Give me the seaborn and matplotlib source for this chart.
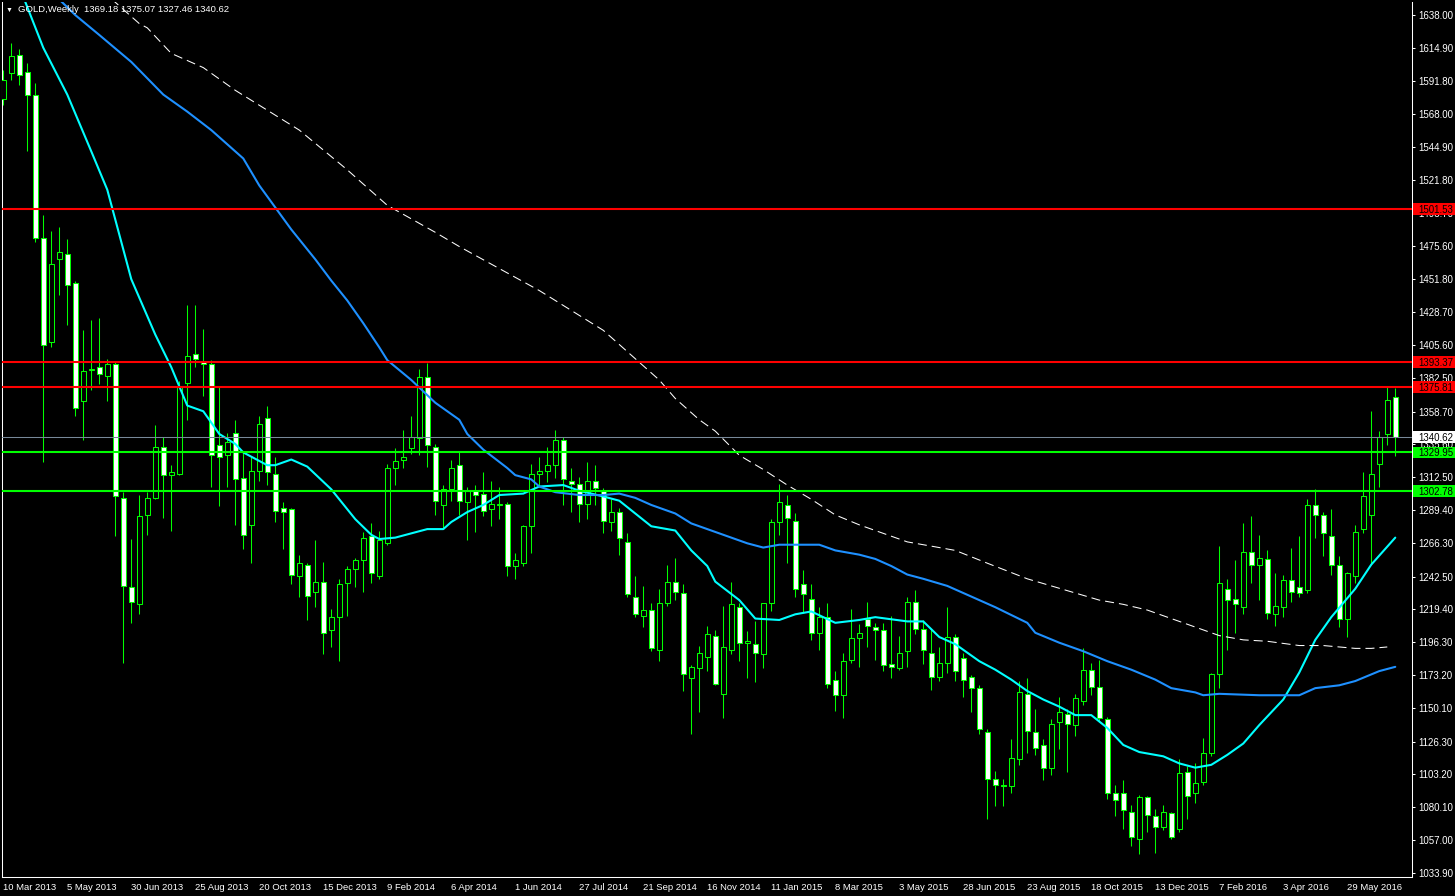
import numpy as np
import pandas as pd
import matplotlib
matplotlib.use("Agg")
import matplotlib.pyplot as plt
from matplotlib.patches import Rectangle
import seaborn as sns

# weekly candles, 10 Mar 2013 -> Jul 2016
opens = [1579, 1597, 1610, 1598, 1582, 1481, 1408, 1466, 1470, 1449,
         1366, 1388, 1390, 1384, 1392, 1298, 1235, 1223, 1286, 1298,
         1334, 1314, 1315, 1379, 1399, 1394, 1392, 1335, 1328, 1344,
         1312, 1279, 1317, 1354, 1315, 1291, 1290, 1243, 1251, 1232,
         1239, 1205, 1214, 1238, 1248, 1254, 1271, 1243, 1266, 1319,
         1325, 1333, 1340, 1383, 1334, 1293, 1304, 1321, 1295, 1303,
         1301, 1290, 1293, 1294, 1250, 1252, 1278, 1315, 1317, 1321,
         1339, 1310, 1308, 1294, 1310, 1303, 1281, 1288, 1267, 1228,
         1215, 1219, 1191, 1224, 1239, 1231, 1171, 1178, 1186, 1201,
         1160, 1191, 1221, 1196, 1195, 1188, 1224, 1281, 1293, 1282,
         1237, 1227, 1203, 1214, 1170, 1159, 1184, 1199, 1213, 1207,
         1205, 1181, 1178, 1190, 1225, 1206, 1189, 1172, 1182, 1200,
         1185, 1172, 1164, 1133, 1100, 1096, 1095, 1114, 1160, 1133,
         1124, 1108, 1140, 1146, 1138, 1155, 1177, 1165, 1142, 1090,
         1090, 1077, 1058, 1087, 1074, 1066, 1076, 1065, 1105, 1090,
         1098, 1118, 1174, 1234, 1227, 1221, 1260, 1251, 1255, 1216,
         1221, 1240, 1235, 1233, 1293, 1286, 1271, 1251, 1213, 1243,
         1276, 1286, 1322, 1343, 1369.18]
highs = [1599, 1618, 1614, 1604, 1590, 1497, 1486, 1489, 1480, 1451,
         1416, 1423, 1425, 1396, 1394, 1302, 1269, 1300, 1302, 1349,
         1341, 1321, 1380, 1434, 1434, 1417, 1395, 1376, 1344, 1353,
         1330, 1327, 1356, 1363, 1327, 1295, 1291, 1258, 1252, 1268,
         1253, 1220, 1241, 1250, 1256, 1274, 1280, 1275, 1322, 1333,
         1346, 1356, 1389, 1393, 1336, 1307, 1325, 1331, 1306, 1307,
         1316, 1310, 1306, 1295, 1259, 1279, 1322, 1327, 1334, 1346,
         1341, 1319, 1313, 1323, 1321, 1305, 1297, 1291, 1273, 1243,
         1236, 1224, 1234, 1251, 1256, 1237, 1180, 1194, 1208, 1205,
         1222, 1239, 1224, 1204, 1211, 1224, 1283, 1308, 1300, 1287,
         1247, 1237, 1221, 1224, 1176, 1189, 1220, 1209, 1225, 1210,
         1210, 1215, 1201, 1228, 1233, 1212, 1206, 1193, 1221, 1202,
         1189, 1173, 1166, 1135, 1106, 1100, 1128, 1169, 1171, 1149,
         1128, 1142, 1158, 1149, 1160, 1192, 1182, 1184, 1144, 1096,
         1099, 1082, 1089, 1088, 1079, 1082, 1077, 1114, 1109, 1111,
         1129, 1175, 1264, 1241, 1254, 1280, 1285, 1272, 1261, 1245,
         1244, 1263, 1271, 1297, 1304, 1288, 1290, 1257, 1246, 1279,
         1316, 1359, 1345, 1376, 1375.07]
lows = [1575, 1592, 1589, 1542, 1478, 1323, 1404, 1441, 1420, 1356,
        1339, 1374, 1378, 1366, 1271, 1182, 1210, 1216, 1272, 1297,
        1284, 1275, 1314, 1353, 1390, 1370, 1306, 1292, 1306, 1279,
        1262, 1252, 1310, 1307, 1281, 1262, 1237, 1228, 1212, 1221,
        1188, 1193, 1183, 1215, 1235, 1232, 1238, 1241, 1265, 1307,
        1319, 1329, 1328, 1320, 1286, 1277, 1296, 1286, 1268, 1274,
        1285, 1278, 1283, 1243, 1241, 1250, 1259, 1306, 1309, 1312,
        1293, 1288, 1281, 1283, 1293, 1273, 1275, 1258, 1228, 1214,
        1207, 1190, 1183, 1222, 1226, 1162, 1132, 1147, 1176, 1166,
        1143, 1188, 1183, 1171, 1168, 1178, 1218, 1272, 1252, 1228,
        1217, 1198, 1191, 1164, 1148, 1143, 1182, 1179, 1193, 1184,
        1176, 1171, 1177, 1179, 1202, 1181, 1163, 1169, 1175, 1169,
        1158, 1147, 1132, 1072, 1081, 1081, 1090, 1110, 1118, 1117,
        1099, 1103, 1121, 1105, 1130, 1152, 1159, 1140, 1086, 1074,
        1065, 1053, 1047, 1063, 1048, 1064, 1058, 1063, 1072, 1083,
        1096, 1116, 1164, 1191, 1203, 1216, 1238, 1226, 1213, 1208,
        1214, 1225, 1228, 1231, 1270, 1257, 1244, 1207, 1200, 1238,
        1273, 1252, 1306, 1335, 1327.46]
closes = [1592, 1609, 1596, 1582, 1481, 1406, 1463, 1471, 1448, 1361,
          1387, 1389, 1385, 1392, 1299, 1236, 1225, 1285, 1298, 1334,
          1314, 1316, 1377, 1398, 1396, 1392, 1328, 1327, 1337, 1311,
          1272, 1317, 1350, 1316, 1289, 1288, 1244, 1252, 1229, 1239,
          1203, 1214, 1237, 1248, 1254, 1270, 1245, 1268, 1319, 1324,
          1327, 1341, 1383, 1335, 1296, 1304, 1319, 1296, 1303, 1300,
          1289, 1294, 1294, 1250, 1254, 1278, 1315, 1317, 1321, 1339,
          1311, 1308, 1294, 1310, 1305, 1282, 1288, 1270, 1230, 1216,
          1219, 1192, 1224, 1239, 1232, 1174, 1179, 1189, 1202, 1167,
          1193, 1223, 1196, 1197, 1189, 1224, 1281, 1295, 1284, 1234,
          1230, 1203, 1214, 1167, 1159, 1183, 1199, 1203, 1208, 1205,
          1180, 1179, 1189, 1225, 1206, 1191, 1172, 1182, 1200, 1176,
          1170, 1164, 1135, 1100, 1096, 1095, 1115, 1161, 1134, 1122,
          1108, 1139, 1147, 1139, 1157, 1177, 1165, 1143, 1090, 1085,
          1078, 1059, 1087, 1075, 1066, 1077, 1059, 1104, 1088, 1097,
          1118, 1174, 1238, 1226, 1223, 1260, 1251, 1256, 1217, 1222,
          1240, 1232, 1231, 1293, 1286, 1273, 1251, 1213, 1245, 1274,
          1299, 1315, 1341, 1367, 1340.62]

# moving averages (candle index, price)
fast_ma_idx = [2, 5, 8, 11, 13, 16, 19, 21, 23, 25, 27, 29, 30, 33, 34, 36, 38, 41,
               44, 46, 47, 49, 53, 55, 56, 58, 60, 62, 65, 67, 70, 72, 75, 77, 79,
               81, 84, 86, 88, 89, 92, 94, 97, 99, 101, 104, 107, 109, 113, 115,
               117, 119, 122, 124, 126, 128, 130, 132, 134, 136, 138, 140, 142,
               145, 147, 149, 151, 153, 155, 157, 160, 162, 164, 166, 169, 171, 174]
fast_ma = [1658, 1615, 1582, 1542, 1515, 1452, 1413, 1390, 1363, 1359, 1343, 1336,
           1330, 1321, 1321, 1325, 1320, 1304, 1283, 1272, 1269, 1270, 1276, 1276,
           1281, 1288, 1293, 1300, 1301, 1306, 1307, 1303, 1299, 1296, 1287, 1278,
           1275, 1261, 1250, 1239, 1226, 1213, 1212, 1216, 1218, 1210, 1212, 1214,
           1211, 1211, 1200, 1195, 1183, 1177, 1170, 1162, 1156, 1151, 1145, 1145,
           1136, 1124, 1119, 1116, 1111, 1108, 1110, 1117, 1125, 1138, 1156, 1175,
           1198, 1214, 1234, 1251, 1270]
mid_ma_idx = [5, 9, 12, 16, 20, 23, 26, 30, 32, 36, 39, 41, 43, 45, 47, 48, 51, 54,
              57, 58, 60, 63, 64, 66, 67, 69, 72, 75, 77, 79, 81, 84, 86, 89, 90,
              93, 95, 97, 99, 102, 104, 107, 109, 111, 113, 115, 118, 120, 124,
              128, 129, 132, 135, 138, 141, 144, 146, 149, 150, 152, 157, 162, 164,
              167, 169, 172, 174]
mid_ma = [1660, 1638, 1624, 1605, 1582, 1570, 1557, 1537, 1518, 1487, 1466, 1451,
          1437, 1421, 1404, 1395, 1381, 1365, 1353, 1343, 1332, 1319, 1314, 1311,
          1306, 1302, 1300, 1300, 1301, 1298, 1293, 1287, 1280, 1274, 1272, 1266,
          1263, 1265, 1265, 1265, 1261, 1258, 1255, 1250, 1244, 1241, 1236, 1231,
          1221, 1210, 1203, 1196, 1190, 1183, 1177, 1170, 1164, 1161, 1159, 1160,
          1159, 1159, 1164, 1166, 1169, 1176, 1179]
slow_ma_idx = [13, 17, 18, 21, 25, 29, 37, 43, 48, 54, 57, 67, 75, 82, 84, 87, 89,
               92, 95, 98, 101, 104, 107, 110, 113, 116, 119, 123, 128, 131, 134,
               137, 140, 143, 146, 149, 152, 155, 158, 162, 165, 169, 171, 173]
slow_ma = [1652, 1632, 1629, 1611, 1601, 1585, 1557, 1529, 1504, 1485, 1475, 1444,
           1416, 1381, 1368, 1353, 1345, 1328, 1318, 1307, 1297, 1286, 1279, 1273,
           1267, 1264, 1261, 1252, 1241, 1236, 1231, 1226, 1223, 1219, 1213, 1207,
           1201, 1198, 1197, 1194, 1194, 1192, 1192, 1193]

red_levels = [1501.53, 1393.37, 1375.81]
green_levels = [1329.95, 1302.78]
last_price = 1340.62

price_ticks = [1638.00, 1614.90, 1591.80, 1568.00, 1544.90, 1521.80, 1498.70,
               1475.60, 1451.80, 1428.70, 1405.60, 1382.50, 1358.70, 1335.60,
               1312.50, 1289.40, 1266.30, 1242.50, 1219.40, 1196.30, 1173.20,
               1150.10, 1126.30, 1103.20, 1080.10, 1057.00, 1033.90]
date_labels = ["10 Mar 2013", "5 May 2013", "30 Jun 2013", "25 Aug 2013",
               "20 Oct 2013", "15 Dec 2013", "9 Feb 2014", "6 Apr 2014",
               "1 Jun 2014", "27 Jul 2014", "21 Sep 2014", "16 Nov 2014",
               "11 Jan 2015", "8 Mar 2015", "3 May 2015", "28 Jun 2015",
               "23 Aug 2015", "18 Oct 2015", "13 Dec 2015", "7 Feb 2016",
               "3 Apr 2016", "29 May 2016"]

LIME = "#00ff00"


def main():
    sns.set_style("dark", rc={"axes.facecolor": "black", "figure.facecolor": "black",
                              "axes.edgecolor": "white", "axes.grid": False})
    plt.rcParams["font.family"] = ["Liberation Sans", "DejaVu Sans"]
    plt.rcParams["lines.scale_dashes"] = False

    df = pd.DataFrame({"o": opens, "h": highs, "l": lows, "c": closes})
    df["i"] = np.arange(len(df))
    bull = df.c >= df.o

    fig = plt.figure(figsize=(14.55, 8.96), dpi=100)
    ax = fig.add_axes([2 / 1455, 19 / 896, 1410 / 1455, 875 / 896])
    ax.set_facecolor("black")

    # wicks + bodies (bull = hollow, bear = white)
    ax.vlines(df.i, df.l, df.h, color=LIME, lw=0.75, zorder=2)
    body_lo = np.minimum(df.o, df.c)
    body_h = np.maximum((df.c - df.o).abs(), 0.5)
    ax.bar(df.i, body_h, bottom=body_lo, width=0.6,
           color=np.where(bull, "black", "white"), edgecolor=LIME, lw=0.75, zorder=3)

    # moving averages
    sns.lineplot(x=fast_ma_idx, y=fast_ma, ax=ax, color="#00ffff", lw=1.5,
                 sort=False, estimator=None, legend=False, zorder=4)
    sns.lineplot(x=mid_ma_idx, y=mid_ma, ax=ax, color="#1e90ff", lw=1.5,
                 sort=False, estimator=None, legend=False, zorder=4)
    sns.lineplot(x=slow_ma_idx, y=slow_ma, ax=ax, color="white", lw=0.75,
                 linestyle=(0, (6.5, 3.6)), sort=False, estimator=None,
                 legend=False, zorder=4)

    # horizontal levels
    for v in red_levels:
        ax.axhline(v, color="red", lw=1.5, zorder=5)
    for v in green_levels:
        ax.axhline(v, color=LIME, lw=1.5, zorder=5)
    ax.axhline(last_price, color="#778899", lw=0.75, zorder=5)

    ax.set_xlim(-0.16, 176.09)
    ax.set_ylim(1031.0, 1647.2)
    ax.set_xlabel("")
    ax.set_ylabel("")

    ax.yaxis.tick_right()
    ax.set_yticks(price_ticks)
    ax.set_yticklabels([f"{v:.2f}" for v in price_ticks])
    ax.tick_params(axis="y", colors="white", length=2.2, width=0.75,
                   labelsize=7, pad=2.2, direction="out", left=False)
    ax.set_xticks(np.arange(0, 8 * len(date_labels), 8))
    ax.set_xticklabels(date_labels)
    ax.tick_params(axis="x", colors="white", length=3, width=0.75,
                   labelsize=6.8, pad=1.5, direction="out")
    for lab in ax.get_xticklabels():
        lab.set_ha("left")

    for side in ["left", "right", "bottom"]:
        ax.spines[side].set_color("white")
        ax.spines[side].set_linewidth(0.75)
    ax.spines["top"].set_visible(False)

    # price tags on the right scale
    tags = [(v, "red") for v in red_levels] + [(last_price, "white")] + \
           [(v, LIME) for v in green_levels]
    tr = ax.get_yaxis_transform()
    for v, col in tags:
        ax.add_patch(Rectangle((1.0007, v - 4.2), 0.0298, 8.4, transform=tr,
                               facecolor=col, edgecolor="none", clip_on=False, zorder=6))
        ax.text(1.0043, v, f"{v:.2f}", transform=tr, color="black", fontsize=7,
                va="center_baseline", ha="left", zorder=7, clip_on=False)

    fig.text(6 / 1455, 1 - 10 / 896, "\u25bc", color="white", fontsize=5,
             va="center", ha="left")
    fig.text(18 / 1455, 1 - 10 / 896,
             "GOLD,Weekly  1369.18 1375.07 1327.46 1340.62",
             color="white", fontsize=6.8, va="center", ha="left")

    fig.savefig("out.png", dpi=100, facecolor="black")


if __name__ == "__main__":
    main()
